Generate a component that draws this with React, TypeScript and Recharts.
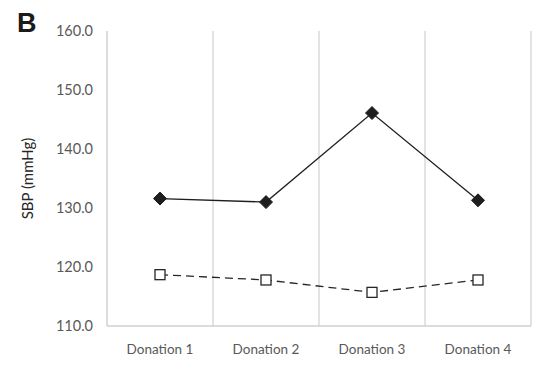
import React from "react";
import {
  LineChart,
  Line,
  XAxis,
  YAxis,
  CartesianGrid,
} from "recharts";

const donations = ["Donation 1", "Donation 2", "Donation 3", "Donation 4"];
const solidSbp = [131.6, 131.0, 146.1, 131.3];
const dashedSbp = [118.7, 117.8, 115.7, 117.8];
const yTicks = [110, 120, 130, 140, 150, 160];

const data = donations.map((name, i) => ({
  name,
  solid: solidSbp[i],
  dashed: dashedSbp[i],
}));

const FONT = "Lato, 'Open Sans', sans-serif";

// vertical lines at the category band edges (not the band centres)
const bandEdgeLines = ({ offset }: any) => {
  const n = donations.length;
  const out: number[] = [];
  for (let i = 1; i <= n; i++) out.push(offset.left + (offset.width * i) / n);
  return out;
};

const Diamond = (props: any) => {
  const { cx, cy } = props;
  if (cx == null || cy == null) return null;
  const r = 6.5;
  return (
    <path
      d={`M${cx},${cy - r} L${cx + r},${cy} L${cx},${cy + r} L${cx - r},${cy} Z`}
      fill="#1e1e1e"
      stroke="#1e1e1e"
      strokeWidth={1}
    />
  );
};

const Square = (props: any) => {
  const { cx, cy } = props;
  if (cx == null || cy == null) return null;
  const s = 10;
  return (
    <rect
      x={cx - s / 2}
      y={cy - s / 2}
      width={s}
      height={s}
      fill="#ffffff"
      stroke="#262626"
      strokeWidth={1.3}
    />
  );
};

const App = () => {
  return (
    <div style={{ position: "absolute", left: 0, top: 0, width: 552, height: 375, background: "#fff" }}>
      <div
        style={{
          position: "absolute",
          left: 17,
          top: 8,
          fontFamily: "'Liberation Sans', Arial, sans-serif",
          fontWeight: 700,
          fontSize: 27,
          color: "#1a1a1a",
        }}
      >
        B
      </div>
      <LineChart
        width={552}
        height={375}
        data={data}
        margin={{ top: 31, right: 21, bottom: 19, left: 0 }}
      >
        <CartesianGrid
          horizontal={false}
          verticalCoordinatesGenerator={bandEdgeLines}
          stroke="#d0d0d0"
          strokeWidth={1.2}
        />
        <XAxis
          dataKey="name"
          scale="band"
          height={30}
          tickLine={false}
          axisLine={{ stroke: "#d0d0d0", strokeWidth: 1.5 }}
          tick={{ fill: "#595959", fontSize: 13.5, fontFamily: FONT }}
          tickMargin={12}
          interval={0}
        />
        <YAxis
          domain={[110, 160]}
          ticks={yTicks}
          tickFormatter={(v: number) => v.toFixed(1)}
          tickLine={false}
          axisLine={{ stroke: "#d0d0d0", strokeWidth: 1.5 }}
          tick={{ fill: "#595959", fontSize: 14.5, fontFamily: FONT }}
          tickMargin={8}
          width={107}
          label={{
            value: "SBP (mmHg)",
            angle: -90,
            position: "insideLeft",
            offset: 28,
            style: { textAnchor: "middle", fill: "#262626", fontSize: 15, fontFamily: FONT },
          }}
        />
        <Line
          dataKey="solid"
          stroke="#1e1e1e"
          strokeWidth={1.3}
          dot={<Diamond />}
          activeDot={false}
          isAnimationActive={false}
        />
        <Line
          dataKey="dashed"
          stroke="#262626"
          strokeWidth={1.3}
          strokeDasharray="8 5"
          dot={<Square />}
          activeDot={false}
          isAnimationActive={false}
        />
      </LineChart>
    </div>
  );
};

export default App;
